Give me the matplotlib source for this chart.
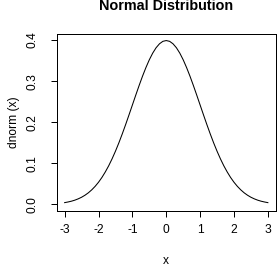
import matplotlib
matplotlib.use("Agg")
import matplotlib.pyplot as plt

# values (right half mirrors the left half)
half_x = [0.0, 0.1, 0.2, 0.3, 0.4, 0.5, 0.6, 0.7, 0.8, 0.9, 1.0,
          1.1, 1.2, 1.3, 1.4, 1.5, 1.6, 1.7, 1.8, 1.9, 2.0,
          2.1, 2.2, 2.3, 2.4, 2.5, 2.6, 2.7, 2.8, 2.9, 3.0]
half_y = [0.3989, 0.3970, 0.3910, 0.3814, 0.3683, 0.3521, 0.3332, 0.3123, 0.2897, 0.2661, 0.2420,
          0.2179, 0.1942, 0.1714, 0.1497, 0.1295, 0.1109, 0.0940, 0.0790, 0.0656, 0.0540,
          0.0440, 0.0355, 0.0283, 0.0224, 0.0175, 0.0136, 0.0104, 0.0079, 0.0060, 0.0044]
x_ticks = [-3, -2, -1, 0, 1, 2, 3]
y_ticks = [0.0, 0.1, 0.2, 0.3, 0.4]
y_tick_labels = ["0.0", "0.1", "0.2", "0.3", "0.4"]

x_vals = [-v for v in half_x[:0:-1]] + half_x
y_vals = half_y[:0:-1] + half_y

plt.rcParams['font.family'] = ['Liberation Sans', 'DejaVu Sans']

W, H = 277, 267
fig = plt.figure(figsize=(W / 100, H / 100), dpi=100)
# box in pixels: left 56.5, right 276, top 34, bottom 211
ax = fig.add_axes([56.5 / W, (H - 211) / H, (276 - 56.5) / W, (211 - 34) / H])

ax.plot(x_vals, y_vals, color='black', lw=0.75)

xpad = 0.04 * 6
ypad = 0.04 * 0.3989
ax.set_xlim(-3 - xpad, 3 + xpad)
ax.set_ylim(0 - ypad, 0.3989 + ypad)

ax.set_xticks(x_ticks)
ax.set_xticklabels([str(t) for t in x_ticks])
ax.set_yticks(y_ticks)
ax.set_yticklabels(y_tick_labels, rotation=90, va='center')

ax.tick_params(direction='out', length=4.3, width=0.72, labelsize=8.64)
ax.tick_params(axis='x', pad=5)
ax.tick_params(axis='y', pad=8.3)
for s in ax.spines.values():
    s.set_linewidth(0.72)

ax.set_xlabel('x', fontsize=8.64)
ax.set_ylabel('dnorm (x)', fontsize=8.64)
ax.xaxis.set_label_coords(0.5, (211 - 255.5) / 177)
ax.yaxis.set_label_coords((20 - 56.5) / 219.5, 0.5)
ax.set_title('Normal Distribution', fontsize=10.4, fontweight='bold', pad=17.3)

fig.savefig('out.png', dpi=100)
